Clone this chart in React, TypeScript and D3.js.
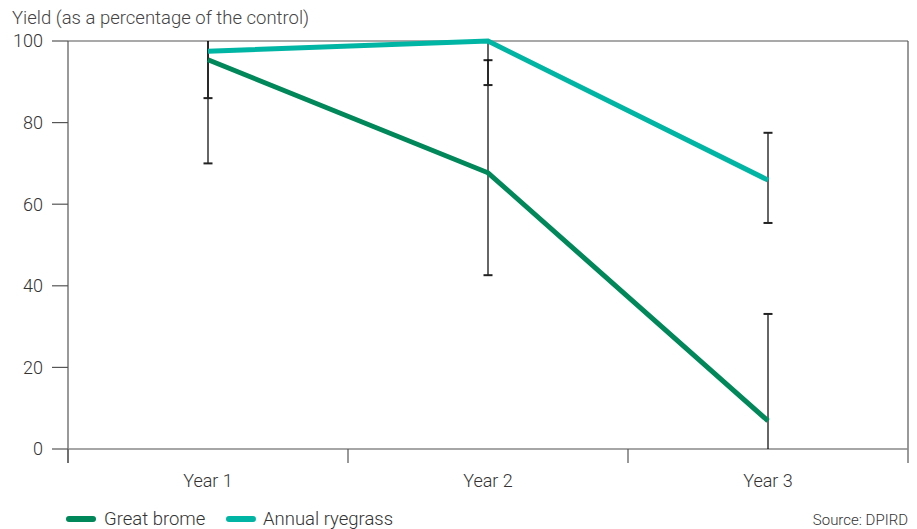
import React from "react";
import * as d3 from "d3";

const years = ["Year 1", "Year 2", "Year 3"];
const greatBrome = [95.4, 67.7, 6.9];
const greatBromeLow = [70, 42.6, -19];
const greatBromeHigh = [121, 95.3, 33.1];
const ryegrass = [97.5, 100, 65.9];
const ryegrassLow = [86, 89.2, 55.4];
const ryegrassHigh = [109, 110.8, 77.5];
const yTicks = [0, 20, 40, 60, 80, 100];

const W = 917;
const H = 529;
const left = 68;
const right = 908;
const top = 41;
const bottom = 449;
const FONT = "Roboto, 'Noto Sans', sans-serif";

const series = [
  { name: "Great brome", color: "#00875a", values: greatBrome, low: greatBromeLow, high: greatBromeHigh },
  { name: "Annual ryegrass", color: "#00b5a3", values: ryegrass, low: ryegrassLow, high: ryegrassHigh },
];

export default function App() {
  const x = d3.scaleBand<string>().domain(years).range([left, right]);
  const y = d3.scaleLinear().domain([0, 100]).range([bottom, top]);
  const cx = (c: string) => (x(c) as number) + x.bandwidth() / 2;
  const line = d3
    .line<number>()
    .x((_, i) => cx(years[i]))
    .y((d) => y(d));
  const clip = (v: number) => Math.max(0, Math.min(100, v));

  return (
    <svg width={W} height={H} style={{ position: "absolute", left: 0, top: 0 }} fontFamily={FONT} fontWeight={300}>
      <rect width={W} height={H} fill="#fff" />
      <text x={12} y={24} fontSize={18.5} fill="#444">
        Yield (as a percentage of the control)
      </text>
      {/* y axis */}
      {yTicks.map((t) => (
        <g key={t}>
          <line x1={52} x2={left} y1={y(t)} y2={y(t)} stroke="#555" strokeWidth={1.2} />
          <text x={43} y={y(t)} dy="0.35em" textAnchor="end" fontSize={18} fill="#333">
            {t}
          </text>
        </g>
      ))}
      <line x1={left} x2={left} y1={top} y2={463} stroke="#555" strokeWidth={1.2} />
      {/* frame */}
      <line x1={left} x2={right} y1={top} y2={top} stroke="#555" strokeWidth={1.2} />
      <line x1={right} x2={right} y1={top} y2={463} stroke="#555" strokeWidth={1.2} />
      <line x1={left} x2={right} y1={bottom} y2={bottom} stroke="#888" strokeWidth={1.5} />
      {/* x ticks */}
      {years.map((c) => (
        <line key={c} x1={x(c)} x2={x(c)} y1={bottom} y2={463} stroke="#555" strokeWidth={1.2} />
      ))}
      {years.map((c) => (
        <text key={c} x={cx(c)} y={487} textAnchor="middle" fontSize={18} fill="#333">
          {c}
        </text>
      ))}
      {/* error bars */}
      {series.map((s) =>
        years.map((c, i) => {
          const lo = clip(s.low[i]);
          const hi = clip(s.high[i]);
          const xx = cx(c);
          return (
            <g key={s.name + c}>
              <line x1={xx} x2={xx} y1={y(lo)} y2={y(hi)} stroke="#000" strokeOpacity={0.6} strokeWidth={2} />
              {s.low[i] > 0 && (
                <line x1={xx - 4.5} x2={xx + 4.5} y1={y(lo)} y2={y(lo)} stroke="#222" strokeWidth={2} />
              )}
              {s.high[i] < 100 && (
                <line x1={xx - 4.5} x2={xx + 4.5} y1={y(hi)} y2={y(hi)} stroke="#222" strokeWidth={2} />
              )}
            </g>
          );
        })
      )}
      {/* lines */}
      {series.map((s) => (
        <path key={s.name} d={line(s.values) as string} fill="none" stroke={s.color} strokeWidth={5} />
      ))}
      {/* legend */}
      <line x1={69} x2={93} y1={519} y2={519} stroke={series[0].color} strokeWidth={6} strokeLinecap="round" />
      <text x={104} y={525} fontSize={18.5} fill="#333">
        {series[0].name}
      </text>
      <line x1={229} x2={253} y1={519} y2={519} stroke={series[1].color} strokeWidth={6} strokeLinecap="round" />
      <text x={263} y={525} fontSize={18.5} fill="#333">
        {series[1].name}
      </text>
      <text x={908} y={525} textAnchor="end" fontSize={15} fill="#333">
        Source: DPIRD
      </text>
    </svg>
  );
}
